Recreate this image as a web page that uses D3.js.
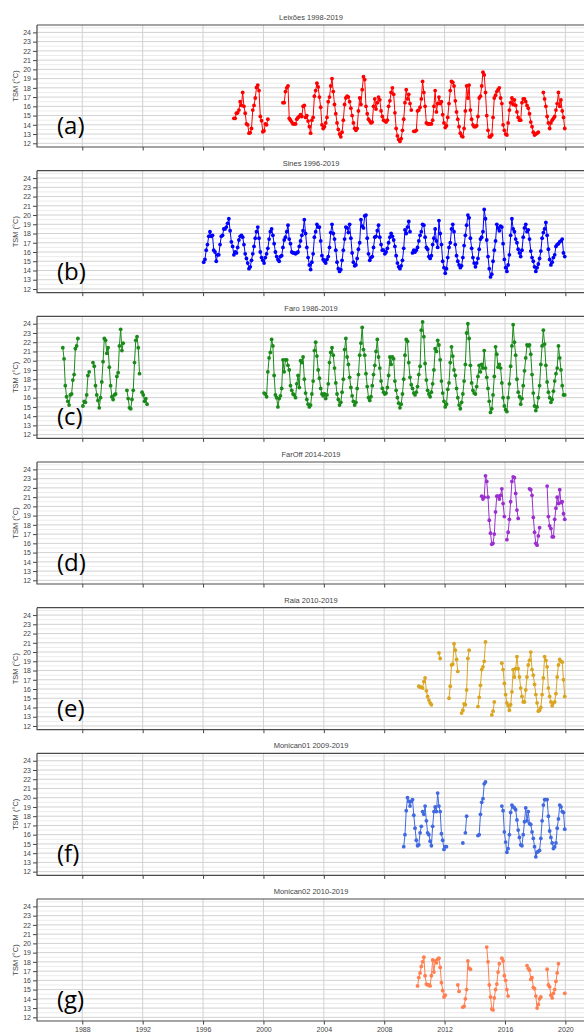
<!DOCTYPE html>
<html>
<head>
<meta charset="utf-8">
<script src="https://d3js.org/d3.v7.min.js"></script>
<style>
  body { margin: 0; background: #fff; }
  svg text { font-family: "Liberation Sans", Arial, sans-serif; }
</style>
</head>
<body>
<svg id="chart" width="584" height="1032"></svg>
<script>
// ---- data (monthly SST, segments start at "YYYY-MM", null = missing month) ----
const titles = ["Leixões 1998-2019", "Sines 1996-2019", "Faro 1986-2019", "FarOff 2014-2019",
  "Raia 2010-2019", "Monican01 2009-2019", "Monican02 2010-2019"];
const letters = ["(a)", "(b)", "(c)", "(d)", "(e)", "(f)", "(g)"];
const colors = ["#ff0000", "#0000ff", "#1a8a1a", "#9b30d0", "#daa520", "#4169e1", "#ff7f50"];
const yTicks = [12, 13, 14, 15, 16, 17, 18, 19, 20, 21, 22, 23, 24];
const yHalf = [12.5, 13.5, 14.5, 15.5, 16.5, 17.5, 18.5, 19.5, 20.5, 21.5, 22.5, 23.5, 24.5];
const xYears = [1988, 1992, 1996, 2000, 2004, 2008, 2012, 2016, 2020];

const leixoes = [
  {start: "1998-01", v: [14.7, 14.7, 15.25, 15.3, 15.6, 16.5, 16.1, 17.5, 16.0, 15.25, 14.1, 14.0, 13.1, 13.15, 13.6, 15.6, 16.1, 16.9, 18.05, 18.3, 17.7, 14.9, 14.45, 13.25, 13.35, 14.1, 14.0, 14.6]},
  {start: "2001-04", v: [16.4, 16.4, 17.6, 18.0, 18.2, 14.7, 14.5, 14.3, 14.1,
    14.1, 14.1, 14.6, 14.8, 14.9, 15.1, 14.9, 16.0, 16.1, 14.8, 15.0, 14.4,
    13.8, 13.1, 14.5, 14.8, 17.1, 17.7, 18.5, 18.1, 17.0, 15.9, 14.0, 13.6,
    13.8, 14.2, 14.8, 16.5, 17.0, 18.2, 19.0, 17.6, 16.2, 15.2, 14.2, 13.5,
    13.0, 12.7, 13.2, 14.5, 16.2, 16.9, 17.1, 17.0, 16.5, 15.8, 15.0, 14.2,
    13.6, 13.4, 13.6, 15.5, 16.9, 16.2, 17.8, 19.2, 18.9, 16.0, 15.2, 14.6,
    14.4, 14.2, 14.3, 16.0, 16.8, 15.7, 16.4, 17.0, 16.7, 15.5, 14.9, 14.5,
    14.4, 14.3, 14.5, 16.0, 16.6, 17.5, 18.0, 17.3, 15.3, 13.6, 12.8, 12.4,
    12.2, 12.5, 13.4, 14.6, 16.4, 17.8, 16.8, 17.3, 16.3, 15.6, null, 13.3,
    13.3, 13.4, 15.5, 15.6, 15.9, 16.8, 18.7, 17.5, 16.0, 14.2, 14.1, 14.1,
    14.1, 14.1, 14.5, 16.0, 17.7, 15.4, 16.3, 17.0, 16.3, 16.5, 15.1, 14.2,
    13.7, 13.9, 14.8, 16.3, 17.7, 18.7, 18.6, 18.2, 16.6, 15.4, 14.6, 13.8,
    13.1, 12.8, 12.7, 13.6, 15.5, 18.2, 16.9, 18.3, 15.6, 14.6, 14.0, 13.8,
    13.8, 13.9, 14.9, 16.9, 17.1, 18.2, 19.7, 19.4, 17.5, 15.0, 13.4, 12.7,
    12.7, 12.9, 14.8, 16.9, 17.2, 17.6, 17.8, 18.0, 16.9, 16.3, 14.0, 13.4,
    13.0, 12.9, 14.2, 15.6, 16.4, 16.9, 16.2, 16.7, 16.1, 15.4, 14.8, 14.5,
    14.5, 16.4, 16.8, 16.8, 16.5, 16.1, 15.8, 15.2, 14.3, 13.8, 13.2, 12.9,
    13.0, 13.1, 13.2]},
  {start: "2018-07", v: [17.5, 16.8, 16.0, 14.9, 14.2, 13.6, 14.2, 14.5, 14.7, 14.9, 15.6, 16.3, 17.5, 16.0, 16.7, 15.5, 14.8, 13.6]}
];

const sines = [
  {start: "1996-01", v: [14.9, 15.2, 16.2, 16.8, 17.7, 18.2, 17.7, 17.8, 16.2, 16.0, 15.0, 15.7,
    15.7, 16.8, 17.7, 17.8, 18.5, 18.5, 18.7, 19.1, 19.6, 18.3, 17.1, 16.6,
    15.7, 16.0, 15.9, 16.5, 17.3, 17.7, 17.8, 17.6, 16.8, 15.8, 15.3, 14.8,
    14.2, 14.4, 15.1, 15.8, 16.6, 17.5, 18.2, 18.7, 17.5, 16.0, 15.4, 15.1,
    14.8, 15.4, 15.8, 16.4, 17.4, 18.2, 18.5, 17.8, 16.9, 16.0, 15.5, 15.2,
    15.0, 15.5, 15.6, 16.5, 17.3, 17.6, 18.2, 18.9, 17.4, 16.9, 16.0, 15.9,
    15.9, 15.8, 15.9, 16.0, 16.6, 17.2, 17.8, 18.3, 19.5, 18.0, 16.5, 15.4,
    14.6, 14.1, 14.9, 15.8, 17.6, 18.2, 19.0, 18.7, 18.7, 17.2, 15.6, 15.2,
    15.0, 14.8, 15.2, 15.5, 16.5, 18.1, 19.0, 18.0, 17.4, 16.2, 14.9, 14.2,
    13.9, 14.1, 15.1, 16.2, 17.4, 18.7, 18.6, 18.1, 19.0, 17.5, 15.9, 14.9,
    14.5, 14.6, 15.3, 16.3, 17.0, 19.5, 18.8, 18.6, 19.9, 20.0, 17.5, 15.8,
    15.1, 15.4, 15.5, 16.5, 17.6, 17.7, 18.3, 18.9, 17.6, 16.8, 16.2, 16.2,
    15.8, 16.0, 16.4, 17.0, 17.6, 18.0, 17.7, 17.3, 16.6, 15.6, 14.8, 14.4,
    14.2, 14.5, 15.1, 16.4, 18.4, 18.0, 18.7, 19.3, 18.2, null, 15.9, 16.2,
    16.0, 16.2, 16.5, 17.2, 17.8, 18.2, 19.0, 18.9, 17.6, 16.5, 16.3, 15.5,
    15.3, 15.6, 16.8, 17.5, 18.5, 17.2, 16.5, 19.4, 18.0, 16.8, 15.0, 14.3,
    13.7, 14.2, 15.4, 16.5, 17.0, 18.5, 19.0, 18.2, 16.8, 15.6, 15.0, 14.6,
    14.3, 14.5, 15.4, 16.7, 17.8, 18.9, 20.0, 19.7, 17.5, 16.4, 15.4, 14.8,
    14.4, 14.8, 15.3, 16.3, 17.4, 17.6, 18.2, 20.6, 19.6, 17.3, 15.5, 14.2,
    13.3, 13.6, 15.0, 16.2, 17.2, 19.0, 18.6, 18.3, 18.8, 18.7, 16.9, 15.2,
    14.3, 13.9, 14.6, 15.7, 17.8, 19.6, 18.5, 18.2, 17.4, 17.0, 16.3, 15.9,
    15.5, 16.2, 17.6, 18.6, 19.0, 18.2, 18.4, 17.4, 16.1, 15.4, 15.0, 14.4,
    13.9, 14.3, 14.7, 15.3, 16.1, 17.5, 18.1, 18.5, 19.2, 17.8, 16.3, 15.2,
    14.6, 14.9, 15.4, 15.7, 16.6, 16.8, 16.9, 17.1, 17.2, 17.4, 15.9, 15.5]}
];

const faro = [
  {start: "1986-09", v: [21.4, 20.2, 17.3, 16.1, 15.6, 15.2, 16.3, 16.4, 17.9, 18.5, 21.3, 21.6, 22.4]},
  {start: "1988-01", v: [15.1, 15.6, 15.5, 16.3, 18.4, 18.8, null, null, 19.8, 19.4, 17.3, 16.3,
    15.7, 14.9, 16.0, 17.7, 19.9, 22.4, 22.2, 20.8, 21.4, 19.3, 17.3, 16.1,
    15.8, 16.3, 16.4, 18.3, 18.7, 21.6, 23.4, 21.1, 21.9]},
  {start: "1990-12", v: [16.8, 15.9, 14.9, 14.8, 15.8, 16.8, 19.8, 22.2, 22.6, 21.4, 18.6]},
  {start: "1991-12", v: [16.6, 16.3, 15.6, 15.9, 15.3]},
  {start: "2000-01", v: [16.5, 16.4, 16.1, 18.8, 20.3, 20.9, 22.3, 21.6, 18.4, 16.3, 16.0, 15.0,
    15.9, 16.2, 17.0, 20.1, 18.8, 20.1, 20.1, 19.5, 19.0, 17.3, 16.8, 16.4,
    16.3, 16.0, 17.5, 18.4, 17.1, 20.0, 19.8, 20.4, 18.0, 16.5, 15.8, 15.3,
    15.0, 15.2, 16.4, 17.8, 21.1, 22.0, 20.5, 19.0, 18.1, 17.0, 16.4, 16.2,
    16.4, 15.9, 16.3, 17.5, 19.8, 20.9, 21.4, 20.6, 19.2, 17.6, 16.4, 15.8,
    15.2, 15.5, 16.6, 18.0, 21.2, 22.4, 20.4, 19.6, 18.2, 17.1, 16.2, 15.6,
    15.2, 15.5, 17.0, 18.5, 20.6, 21.9, 23.6, 21.2, 20.6, 18.6, 17.2, 16.0,
    15.7, 16.1, 17.3, 18.5, 19.5, 21.0, 22.3, 20.4, 19.2, 17.8, 17.0, 16.6,
    16.4, 16.5, 17.1, 18.4, 20.4, 19.6, 20.4, 20.2, 17.8, 16.8, 16.0, 15.4,
    14.9, 15.3, 16.4, 18.0, 20.6, 22.3, 22.1, 19.8, 18.2, 17.4, 17.0, 16.5,
    16.3, 16.6, 17.2, 18.5, 19.4, 23.3, 24.2, 22.6, 19.7, 17.9, 16.8, 16.4,
    16.1, 16.6, 17.5, 19.0, 21.3, 21.0, 22.2, 21.7, 20.1, 17.8, 16.5, 15.6,
    15.0, 15.3, 16.9, 17.6, 19.8, 21.5, 20.5, 19.0, 18.4, 17.0, 16.0, 15.2,
    14.8, 15.5, 16.4, 17.8, 19.6, 23.0, 24.0, 22.4, 19.5, 17.6, 16.8, 16.5,
    16.4, 17.2, 18.3, 19.5, 18.8, 19.6, 19.2, 21.1, 19.2, 18.2, 17.0, 15.6,
    14.4, 14.8, 16.3, 18.3, 21.5, 20.7, 19.3, 19.6, 19.2, 17.6, 16.0, 15.1,
    14.7, 14.5, 16.0, 17.5, 19.4, 21.6, 23.9, 22.0, 20.6, 18.0, 16.6, 16.1,
    15.3, 15.9, 17.3, 18.9, 20.3, 21.7, 21.6, 21.7, 20.7, 18.5, 16.5, 15.1,
    14.6, 15.0, 16.0, 17.3, 19.6, 21.6, 23.3, 21.8, 19.5, 17.7, 16.6, 16.0,
    15.5, 15.8, 16.7, 17.8, 18.6, 19.2, 21.6, 20.3, 19.0, 17.3, 16.3, 16.3]}
];

const farOff = [
  {start: "2014-06", v: [21.1, 20.8, 21.0, 23.3, 22.7, 21.0, 18.5, 17.1, 15.9, 16.0, 17.0, 19.4, 21.1, 21.1, 20.8, 21.2, 21.9, 20.3, 18.9]},
  {start: "2016-02", v: [16.4, 17.2, 18.6, 20.5, 22.7, 23.2, 23.1, 21.4, 19.6, 18.7]},
  {start: "2017-08", v: [21.9, 21.8, 21.2, 18.8, 17.2, 16.0, 15.8, 16.8, 17.7]},
  {start: "2018-10", v: [22.2, 18.9, 17.9, 17.6, 16.7, 16.7, 18.6, 19.8, 21.0, 20.3, 21.8, 20.4, 20.5, 19.2, 18.6]}
];

const raia = [
  {start: "2010-04", v: [16.3, 16.2, 16.2, 16.1, 16.8, 17.2, 15.8, 15.2, 14.8, 14.5, 14.3]},
  {start: "2011-08", v: [19.9, 19.3]},
  {start: "2012-04", v: [15.0, 16.3, 18.6, 18.7, 20.9, 20.2, 19.2, 17.9]},
  {start: "2013-02", v: [13.4, 13.7, 14.4, 14.3, 15.9, 19.3, 20.2]},
  {start: "2014-03", v: [14.1, 15.1, 16.4, 18.1, 18.4, 19.0, 21.1]},
  {start: "2015-02", v: [13.2, 13.6, 14.6]},
  {start: "2015-10", v: [18.8, 18.1, 16.6, 15.4, 14.5, 14.2, 13.7, 14.3, 15.7, 18.1, 17.3, 18.2,
    19.5, 18.2, 17.3, 16.1, 15.2, 14.6, 14.6, 15.9, 17.3, 18.6, 19.1, 20.0,
    18.1, 17.5, 16.5, 15.4, 14.5, 13.6, 13.7, 14.0, 15.4, 17.2, 19.5, 19.1,
    18.4, 16.1, 15.2, 14.6, 14.2, 14.5, 14.6, 15.5, 17.3, 18.6, 19.2, 19.0,
    18.9, 17.0, 15.2]}
];

const monican01 = [
  {start: "2009-04", v: [14.7, 16.0, 18.6, 20.0, 19.6, 19.1, 19.6, 19.8, 18.1, 16.7, 15.4, 14.8, 14.9, 16.2, 16.9]},
  {start: "2010-07", v: [18.5, 18.2, 19.1, 17.5, 16.2, 16.0, 15.3, 14.8, 16.9, 18.5, 19.0, 18.5, 20.5, 19.1, 18.5, 16.1, 15.4, 14.4, 14.7, 14.7]},
  {start: "2013-03", v: [15.1, null, 16.2, 18.0]},
  {start: "2014-03", v: [15.9, 16.0, 18.2, 19.5, 19.9, 21.5, 21.7]},
  {start: "2015-10", v: [19.1, 18.6, 16.3, 15.2, 14.1, 14.5, 16.0, 18.4, 19.2, 19.0, 18.9, 18.7,
    17.6, 16.5, 15.7, 14.9, 14.8, 16.0, 17.4, 18.9, 17.5, 18.5, 17.2, 17.1,
    16.3, 15.6, 14.7, 13.6, 14.1, 14.2, 14.3, 15.6, 17.5, 19.2, 19.8, 19.8,
    19.8, 18.0, 16.4, 15.7, 15.1, 14.5, 14.7, 15.1, 16.7, 17.7, 19.2, 19.0,
    18.5, 18.4, 16.6]}
];

const monican02 = [
  {start: "2010-03", v: [15.4, 16.3, 16.8, 17.5, 18.0, 18.5, 16.5, 15.6, 15.5, 15.5, 15.4, 16.5, 18.2, 16.9, 18.1, 17.9, 18.3, 18.4, 17.4, 15.75, 14.9, 14.2, 14.4]},
  {start: "2012-11", v: [15.5, 14.8]},
  {start: "2013-03", v: [13.1, 13.2, 14.0, 15.0, 18.1, 17.3, 17.2]},
  {start: "2014-10", v: [19.6, 18.0, 15.5, 14.2, 12.9, 12.8, 14.1, 15.0, 15.6, 16.9, 17.8]},
  {start: "2015-10", v: [18.4, 18.1, 16.5, 16.0, 15.0, 14.3]},
  {start: "2017-06", v: [17.6, 17.3, 17.1, 16.1, 16.3, 15.25, 15.1, 14.3, 13.0, 13.4, 14.0, 14.2]},
  {start: "2018-10", v: [17.2, 15.5, 15.3, 14.4, 14.1, 14.6, 15.0, 15.9, 16.8, 17.8]},
  {start: "2019-12", v: [14.6]}
];

const allSeries = [leixoes, sines, faro, farOff, raia, monican01, monican02];

// ---- layout ----
const svg = d3.select("#chart");
const plotLeft = 37, plotRight = 585;
const firstTop = 25, panelStep = 145.67, panelH = 122;

const x = d3.scaleLinear().domain([1985, 2021.3]).range([plotLeft, plotRight]);
const y = d3.scaleLinear().domain([11.6, 24.8]).range([panelH, 0]);

// turn segments into points, with a null between segments so the line breaks
function toPoints(segs) {
  const pts = [];
  segs.forEach((sg) => {
    const [yr, mo] = sg.start.split("-").map(Number);
    sg.v.forEach((val, j) => {
      pts.push(val == null ? null : { t: yr + (mo - 0.5 + j) / 12, v: val });
    });
    pts.push(null);
  });
  return pts;
}

const line = d3.line()
  .defined((d) => d !== null)
  .x((d) => x(d.t))
  .y((d) => y(d.v));

allSeries.forEach((segs, i) => {
  const top = firstTop + i * panelStep;
  const g = svg.append("g").attr("transform", "translate(0," + top + ")");

  // grid
  g.selectAll("line.gh")
    .data(yHalf)
    .join("line")
    .attr("class", "gh")
    .attr("x1", plotLeft).attr("x2", plotRight)
    .attr("y1", (d) => y(d)).attr("y2", (d) => y(d))
    .attr("stroke", "#ebebeb").attr("stroke-width", 1);
  g.selectAll("line.gy")
    .data(yTicks)
    .join("line")
    .attr("class", "gy")
    .attr("x1", plotLeft).attr("x2", plotRight)
    .attr("y1", (d) => y(d)).attr("y2", (d) => y(d))
    .attr("stroke", "#d2d2d2").attr("stroke-width", 1);
  g.selectAll("line.gx")
    .data(xYears)
    .join("line")
    .attr("class", "gx")
    .attr("x1", (d) => x(d)).attr("x2", (d) => x(d))
    .attr("y1", 0).attr("y2", panelH)
    .attr("stroke", "#d2d2d2").attr("stroke-width", 1);

  // data
  const pts = toPoints(segs);
  g.append("path")
    .datum(pts)
    .attr("d", line)
    .attr("fill", "none")
    .attr("stroke", colors[i])
    .attr("stroke-width", 1);
  g.selectAll("circle")
    .data(pts.filter((d) => d !== null))
    .join("circle")
    .attr("cx", (d) => x(d.t))
    .attr("cy", (d) => y(d.v))
    .attr("r", 1.9)
    .attr("fill", colors[i]);

  // axes
  const ya = g.append("g")
    .attr("transform", "translate(" + plotLeft + ",0)")
    .call(d3.axisLeft(y).tickValues(yTicks).tickSize(4).tickPadding(2).tickFormat(d3.format("d")));
  ya.select(".domain").remove();
  ya.selectAll("line").attr("stroke", "#444");
  ya.selectAll("text").attr("fill", "#444").style("font-size", "7px");

  const xa = g.append("g")
    .attr("transform", "translate(0," + panelH + ")")
    .call(d3.axisBottom(x).tickValues(xYears).tickSize(3.5).tickPadding(3)
      .tickFormat(i === allSeries.length - 1 ? d3.format("d") : () => ""));
  xa.select(".domain").remove();
  xa.selectAll("line").attr("stroke", "#444");
  xa.selectAll("text").attr("fill", "#444").style("font-size", "7px");

  // spines
  g.append("path")
    .attr("d", "M" + plotLeft + ",0H" + plotRight + "M" + plotLeft + ",0V" + panelH + "H" + plotRight)
    .attr("fill", "none")
    .attr("stroke", "#4a4a4a")
    .attr("stroke-width", 1.2);

  // labels
  g.append("text")
    .attr("x", (plotLeft + plotRight) / 2)
    .attr("y", -5)
    .attr("text-anchor", "middle")
    .attr("fill", "#444")
    .style("font-size", "7.5px")
    .text(titles[i]);

  g.append("text")
    .attr("transform", "translate(18," + 61 + ") rotate(-90)")
    .attr("text-anchor", "middle")
    .attr("fill", "#444")
    .style("font-size", "7.5px")
    .text("TSM (°C)");

  g.append("text")
    .attr("x", 57)
    .attr("y", 109)
    .attr("fill", "#000")
    .style("font-family", "'Open Sans', sans-serif")
    .style("font-size", "24px")
    .text(letters[i]);
});
</script>
</body>
</html>
